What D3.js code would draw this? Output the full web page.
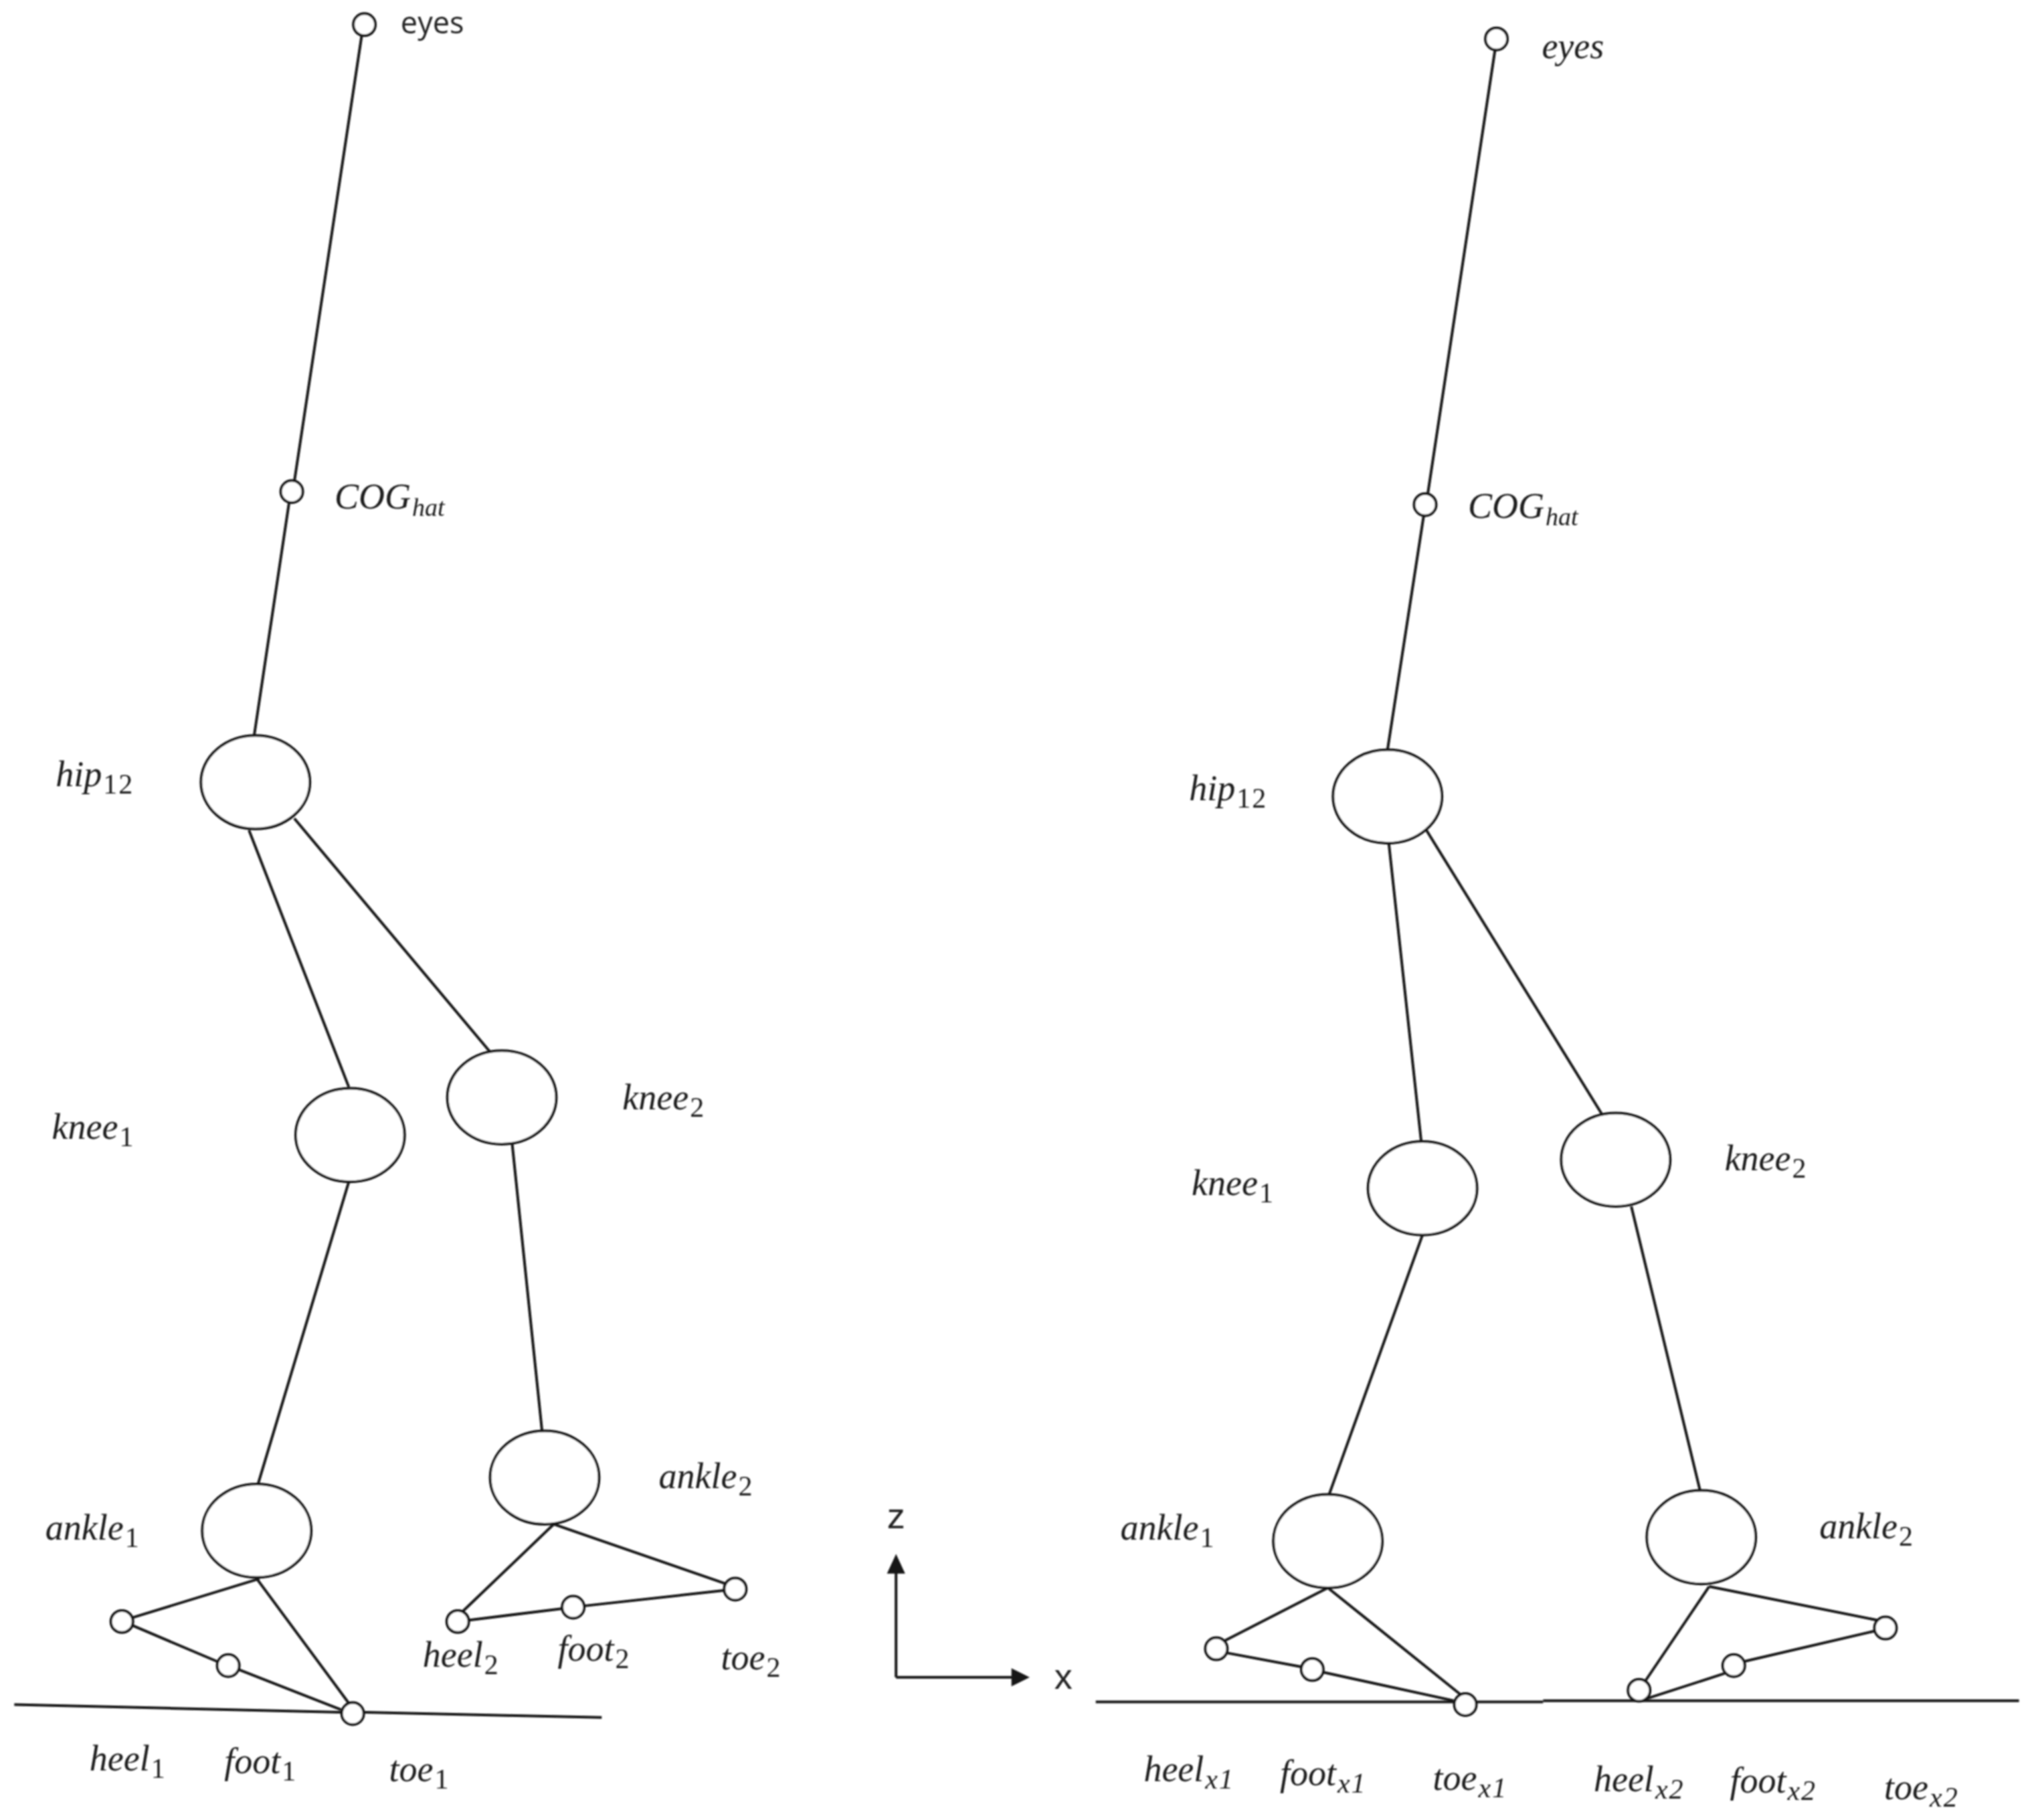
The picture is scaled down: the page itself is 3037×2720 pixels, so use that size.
<!DOCTYPE html>
<html><head><meta charset="utf-8">
<script src="https://cdn.jsdelivr.net/npm/d3@7"></script>
<style>html,body{margin:0;padding:0;background:#fff}svg{display:block}</style>
</head><body><div id="chart"></div>
<script>
// Joints (read in a 1560 x 1397 picture space)
const jointX = [281,225,94,176,272,353,442,567, 1154,1099,938,1012,1130,1264,1337,1454];
const jointZ = [19,379,1250,1284,1321,1250,1239,1225, 30,389,1271,1287,1314,1303,1284,1255];
const ellipseX = [197,270,387,198,420, 1070,1097,1246,1024,1312];
const ellipseZ = [603,875,846,1180,1139, 614,916,894,1188,1185];
// Segments [x1,z1,x2,z2]
const segments = [
 [279,27,227,371],[223,387,196,567],[192,640,269,838],[227,631,378,811],[269,911,199,1144],[395,882,418,1103],
 [200,1217,102,1247],[198,1217,269,1313],[102,1253,168,1281],[184,1287,263,1318],
 [427,1175,356,1243],[427,1175,560,1221],[361,1249,434,1240],[450,1238,559,1226],
 [11,1314,263,1320],[281,1320,464,1324],
 [1153,38,1101,381],[1098,397,1070,578],[1071,650,1096,880],[1100,640,1236,860],[1097,952,1025,1152],[1258,930,1311,1149],
 [1024,1224,944,1265],[1024,1224,1126,1306],[945,1274,1004,1285],[1020,1289,1121,1311],
 [1318,1223,1268,1297],[1318,1223,1448,1249],[1265,1311,1330,1290],[1344,1281,1447,1257],
 [845,1312,1121,1312],[1139,1312,1190,1312],[1190,1311,1557,1311],
 [691,1293,691,1210],[691,1293,782,1293]
];
const arrowUp = [[691,1198],[684,1213],[698,1213]];
const arrowRight = [[794,1293],[780,1286],[780,1300]];
// Labels
const mathText = ["COG","hip","knee","knee","ankle","ankle","heel","foot","toe","heel","foot","toe",
 "eyes","COG","hip","knee","knee","ankle","ankle","heel","foot","toe","heel","foot","toe"];
const mathSub = ["hat","12","1","2","1","2","1","1","1","2","2","2",
 "","hat","12","1","2","1","2","x1","x1","x1","x2","x2","x2"];
const mathX = [258,43,40,480,35,508,69,173,300,326,430,556,
 1189,1132,917,919,1330,864,1403,882,987,1105,1229,1334,1453];
const mathZ = [392,606,878,855,1187,1147,1365,1367,1373,1285,1280,1287,
 45,399,617,921,902,1187,1186,1373,1376,1380,1381,1382,1387];
const plainText = ["eyes","z","x"];
const plainX = [309,684,813];
const plainZ = [26,1178,1302];

const W = 3037, H = 2720;
const x = d3.scaleLinear().domain([0,1567]).range([0,W]);
const z = d3.scaleLinear().domain([0,1403]).range([0,H]);
const ink = "#141414";
const svg = d3.select("#chart").append("svg").attr("width",W).attr("height",H).attr("viewBox",[0,0,W,H]);
svg.append("rect").attr("width",W).attr("height",H).attr("fill","#fff");
svg.append("defs").append("filter").attr("id","soft").append("feGaussianBlur").attr("stdDeviation",0.8);
const root = svg.append("g").attr("filter","url(#soft)");

root.append("g").attr("stroke",ink).attr("stroke-width",4).attr("stroke-linecap","butt")
  .selectAll("line").data(segments).join("line")
  .attr("x1",d=>x(d[0])).attr("y1",d=>z(d[1])).attr("x2",d=>x(d[2])).attr("y2",d=>z(d[3]));

const arrowLine = d3.line().x(d=>x(d[0])).y(d=>z(d[1]));
root.append("g").attr("fill",ink).selectAll("path").data([arrowUp,arrowRight]).join("path")
  .attr("d",d=>arrowLine(d)+"Z");

root.append("g").attr("fill","#fff").attr("stroke",ink).attr("stroke-width",4)
  .selectAll("ellipse").data(ellipseX).join("ellipse")
  .attr("cx",d=>x(d)).attr("cy",(d,i)=>z(ellipseZ[i])).attr("rx",x(42)).attr("ry",z(36));

root.append("g").attr("fill","#fff").attr("stroke",ink).attr("stroke-width",4)
  .selectAll("circle").data(jointX).join("circle")
  .attr("cx",d=>x(d)).attr("cy",(d,i)=>z(jointZ[i])).attr("r",x(8.5));

const math = root.append("g").attr("fill","#1c1c1c").attr("font-family","'Liberation Serif',serif")
  .attr("font-style","italic").attr("font-size",54)
  .selectAll("text").data(mathText).join("text")
  .attr("x",(d,i)=>x(mathX[i])).attr("y",(d,i)=>z(mathZ[i]));
math.append("tspan").text(d=>d);
math.append("tspan").attr("dy",11).attr("dx",2)
  .attr("font-size",(d,i)=>mathSub[i]==="hat"?38:42)
  .attr("letter-spacing",(d,i)=>mathSub[i]==="hat"?0:2)
  .attr("font-style",(d,i)=>/^\d+$/.test(mathSub[i])?"normal":"italic")
  .text((d,i)=>mathSub[i]);

root.append("g").attr("fill","#222")
  .selectAll("text").data(plainText).join("text")
  .attr("font-size",(d,i)=>i===0?45:54)
  .attr("font-family",(d,i)=>i===0?"'Open Sans',sans-serif":"'Liberation Sans Narrow','Liberation Sans',sans-serif")
  .attr("x",(d,i)=>x(plainX[i])).attr("y",(d,i)=>z(plainZ[i])).text(d=>d);
</script></body></html>
